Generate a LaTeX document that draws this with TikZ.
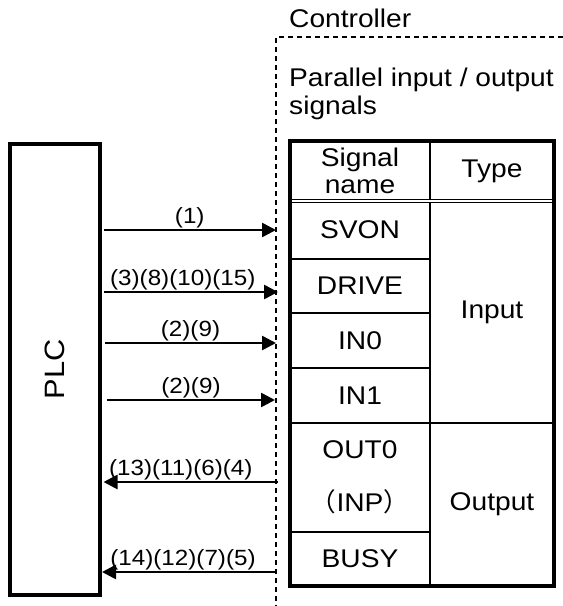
\documentclass[tikz,border=0pt]{standalone}
\usepackage{fontspec}
\setmainfont{Liberation Sans}[FakeStretch=1.1]
\newfontfamily\cjk{Noto Sans CJK JP}
\usepackage{tikz}
\usetikzlibrary{positioning,arrows.meta}

\begin{document}
\begin{tikzpicture}[
  x=1pt, y=-1pt,
  font=\fontsize{25.6}{26.5}\selectfont,
  cell/.style={draw, line width=1.4pt, inner sep=0pt, outer sep=0pt, align=center},
  namecell/.style={cell, minimum width=140pt},
  typecell/.style={cell, minimum width=124pt},
  txt/.style={inner sep=0pt, align=left},
  lbl/.style={font=\fontsize{22}{22}\selectfont, above, inner sep=0.5pt},
  sig/.style={-{Triangle[length=14pt, width=14pt]}, line width=2.6pt},
  border/.style={dash pattern=on 5pt off 4pt, line width=1.4pt}
]
\useasboundingbox (0,0) rectangle (563,606);

\node[draw, line width=4pt, minimum width=90pt, minimum height=451pt] (plc) at (55,369.5) {};
\node[rotate=90, inner sep=0pt, font=\fontsize{28}{28}\selectfont] (plcname) at (plc.center) {PLC};

\coordinate (ctl) at (276,37);
\draw[border] (563,37) -- (ctl) -- (276,606);
\node[txt, anchor=base west] (ctlname) at (289,27) {Controller};
\node[txt, anchor=north west, font=\fontsize{25.6}{28.3}\selectfont] (pio) at (289,67.5) {Parallel input / output\\signals};

\node[namecell, anchor=north west, minimum height=60pt] (hname) at (290,141) {Signal\\name};
\node[typecell, right=0pt of hname, minimum height=60pt] (htype) {Type};
\node[namecell, below=0pt of hname, minimum height=58pt] (svon) {SVON};
\node[namecell, below=0pt of svon, minimum height=54pt] (drive) {DRIVE};
\node[namecell, below=0pt of drive, minimum height=55pt] (in0) {IN0};
\node[namecell, below=0pt of in0, minimum height=55pt] (in1) {IN1};
\node[namecell, below=0pt of in1, minimum height=109pt] (out0) {OUT0\\[27pt]{\cjk （}INP{\cjk ）}};
\node[namecell, below=0pt of out0, minimum height=54pt] (busy) {BUSY};
\node[typecell, anchor=north west, minimum height=222pt] (input) at (svon.north east) {Input};
\node[typecell, anchor=north west, minimum height=163pt] (output) at (out0.north east) {Output};
\draw[line width=1pt, double, double distance=2pt] (hname.south west) -- (htype.south east);
\draw[line width=4pt] (hname.north west) rectangle (output.south east);

\coordinate (svonin) at (276,230);
\coordinate (drivein) at (278,292);
\coordinate (in0in) at (276,343);
\coordinate (in1in) at (275,400);
\coordinate (out0out) at (278,482);
\coordinate (busyout) at (276,572);

\draw[sig] ([xshift=1.5pt]plc.east |- svonin) -- node[lbl] {(1)} (svonin);
\draw[sig] ([xshift=1.5pt]plc.east |- drivein) -- node[lbl, xshift=-8pt] {(3)(8)(10)(15)} (drivein);
\draw[sig] ([xshift=3pt]plc.east |- in0in) -- node[lbl] {(2)(9)} (in0in);
\draw[sig] ([xshift=5pt]plc.east |- in1in) -- node[lbl] {(2)(9)} (in1in);
\draw[sig] (out0out) -- node[lbl, xshift=-10pt] {(13)(11)(6)(4)} ([xshift=1.5pt]plc.east |- out0out);
\draw[sig] (busyout) -- node[lbl, xshift=-6pt] {(14)(12)(7)(5)} (plc.east |- busyout);
\end{tikzpicture}
\end{document}
